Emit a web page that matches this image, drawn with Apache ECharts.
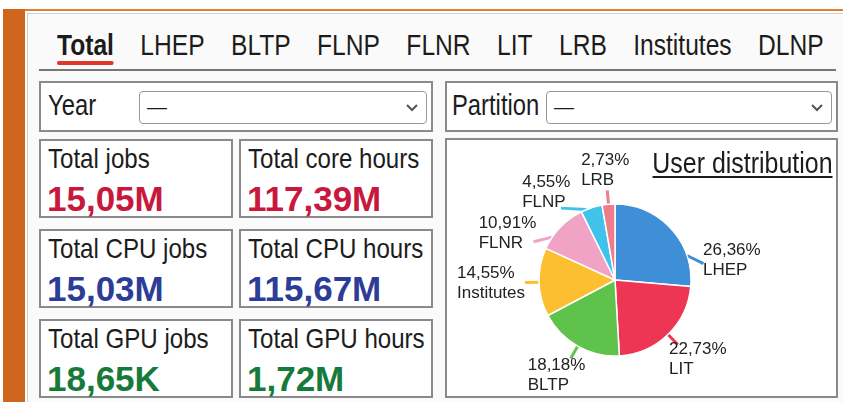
<!DOCTYPE html>
<html>
<head>
<meta charset="utf-8">
<script src="https://cdn.jsdelivr.net/npm/echarts@6/dist/echarts.min.js"></script>
<style>
body { margin: 0; width: 843px; height: 402px; overflow: hidden; background: #fff; position: relative;
  font-family: "Liberation Sans", Arial, sans-serif; color: #1c1c1c; }
.narrow { transform: scaleX(0.82); transform-origin: 0 0; white-space: nowrap; }
#side { position: absolute; left: 3px; top: 9px; width: 22px; height: 393px; background: #cf661d; }
#topline { position: absolute; left: 25px; top: 9px; right: 0; height: 2px; background: #e27c33; }
#panel { position: absolute; left: 27px; top: 13px; width: 816px; height: 389px; background: #fafafa;
  border-left: 1px solid #d0d0d0; border-top: 1px solid #d0d0d0; }
#tabs { position: absolute; left: 57px; top: 30px; display: flex; gap: 32.2px; font-size: 30px; line-height: 30px; }
#tabs span.on { font-weight: bold; position: relative; }
#tabs span.on:after { content: ""; position: absolute; left: 0; right: 0; top: 31px; height: 4px; background: #e0352a; border-radius: 2px; }
#tabline { position: absolute; left: 39px; top: 69px; width: 797px; height: 2px; background: #777; }
.box { position: absolute; border: 2px solid #8a8a8a; background: #fff; box-sizing: border-box; }
.flabel { position: absolute; top: 8px; font-size: 29px; line-height: 29px; }
.sel { position: absolute; top: 8px; height: 33px; border: 1.5px solid #999; border-radius: 4px; box-sizing: border-box; background: #fff; }
.sel .dash { position: absolute; left: 7px; top: 3px; font-size: 20px; line-height: 24px; }
.sel svg { position: absolute; right: 8px; top: 12px; }
.card .lab { position: absolute; left: 7px; top: 4px; font-size: 28px; line-height: 28px; transform: scaleX(0.86); }
.card .val { position: absolute; left: 6px; top: 40px; font-weight: bold; font-size: 35px; line-height: 35px; }
#chart { position: absolute; left: 446px; top: 139px; width: 391px; height: 257px; }
#ptitle { position: absolute; right: 10px; top: 149px; font-size: 29px; line-height: 29px; transform: scaleX(0.86); transform-origin: 100% 0;
  white-space: nowrap; text-decoration: underline; text-decoration-thickness: 2px; text-underline-offset: 3px; }
</style>
</head>
<body>
<div id="side"></div>
<div id="topline"></div>
<div id="panel"></div>
<div id="tabs" class="narrow"></div>
<div id="tabline"></div>

<div class="box" style="left:39px;top:81px;width:394px;height:51px;">
  <div class="flabel narrow" style="left:7px;">Year</div>
  <div class="sel" style="left:98px;width:288px;"><span class="dash">—</span>
    <svg width="12" height="8"><polyline points="1,1 6,6 11,1" fill="none" stroke="#555" stroke-width="2"/></svg></div>
</div>
<div class="box" style="left:445px;top:81px;width:393px;height:51px;">
  <div class="flabel narrow" style="left:5px;">Partition</div>
  <div class="sel" style="left:99px;width:286px;"><span class="dash">—</span>
    <svg width="12" height="8"><polyline points="1,1 6,6 11,1" fill="none" stroke="#555" stroke-width="2"/></svg></div>
</div>

<div id="cards"></div>

<div class="box" style="left:445px;top:138px;width:393px;height:260px;"></div>
<div id="chart"></div>
<div id="ptitle">User distribution</div>

<script>
var tabNames = ['Total', 'LHEP', 'BLTP', 'FLNP', 'FLNR', 'LIT', 'LRB', 'Institutes', 'DLNP'];
var cardLabels = ['Total jobs', 'Total core hours', 'Total CPU jobs', 'Total CPU hours', 'Total GPU jobs', 'Total GPU hours'];
var cardValues = ['15,05M', '117,39M', '15,03M', '115,67M', '18,65K', '1,72M'];
var groupNames = ['LHEP', 'LIT', 'BLTP', 'Institutes', 'FLNR', 'FLNP', 'LRB'];
var userCounts = [29, 25, 20, 16, 12, 5, 3];

var rowColors = ['#c9183d', '#2c3d97', '#167a3b'];
var sliceColors = ['#3f8fd8', '#ee3654', '#5fc24b', '#fbbf30', '#f0a3c4', '#40c2ea', '#ee7d8c'];

// tabs
var tabs = document.getElementById('tabs');
tabNames.forEach(function (t, i) {
  var s = document.createElement('span');
  s.textContent = t;
  if (i === 0) s.className = 'on';
  tabs.appendChild(s);
});

// stat cards, 2 per row
var cards = document.getElementById('cards');
var cardTops = [139, 229, 319];
var cardLefts = [39, 239];
cardLabels.forEach(function (lab, i) {
  var row = Math.floor(i / 2), col = i % 2;
  var d = document.createElement('div');
  d.className = 'box card';
  d.style.left = cardLefts[col] + 'px';
  d.style.top = cardTops[row] + 'px';
  d.style.width = '194px';
  d.style.height = '79px';
  d.innerHTML = '<div class="lab narrow">' + lab + '</div><div class="val" style="color:' + rowColors[row] + '">' + cardValues[i] + '</div>';
  cards.appendChild(d);
});

// pie
var cx = 169, cy = 141, r = 76, lineLen = 14, lineH = 20, gapX = 10, titleClear = 60;
var labelFont = '17px "Liberation Sans", Arial, sans-serif';
var total = userCounts.reduce(function (a, b) { return a + b; }, 0);
var pctText = userCounts.map(function (v) { return (v / total * 100).toFixed(2).replace('.', ',') + '%'; });

// outside labels: box sits just past the line end; walk round the pie until it is free
var ctx = document.createElement('canvas').getContext('2d');
ctx.font = labelFont;
var midAngles = [], sweeps = [], start = 90;
userCounts.forEach(function (v) {
  var sweep = v / total * 360;
  midAngles.push(start - sweep / 2);
  sweeps.push(sweep);
  start -= sweep;
});
function overlaps(a, b) {
  return Math.abs(a.x - b.x) < (a.w + b.w) / 2 + gapX && Math.abs(a.y - b.y) < (a.h + b.h) / 2;
}
function boxAt(ang, w, h) {
  var t = ang * Math.PI / 180;
  var ux = Math.cos(t), uy = -Math.sin(t);
  var ex = cx + (r + lineLen) * ux, ey = cy + (r + lineLen) * uy;
  return { x: ex + ux * w / 2, y: ey + uy * h / 2, w: w, h: h, ex: ex, ey: ey, ang: ang };
}
// keep labels clear of the title
var chartRect = document.getElementById('chart').getBoundingClientRect();
var titleRect = document.getElementById('ptitle').getBoundingClientRect();
var placed = [{
  x: (titleRect.left + titleRect.right) / 2 - chartRect.left,
  y: (titleRect.top + titleRect.bottom) / 2 - chartRect.top,
  w: titleRect.width, h: titleRect.height + 2 * titleClear
}];
var layouts = [];
for (var i = groupNames.length - 1; i >= 0; i--) {
  var w = Math.max(ctx.measureText(pctText[i]).width, ctx.measureText(groupNames[i]).width);
  var h = 2 * lineH, box = null;
  for (var k = 0; k < 120 && !box; k++) {
    [k, -k].forEach(function (d) {
      if (box) return;
      var b = boxAt(midAngles[i] + d, w, h);
      if (!placed.some(function (p) { return overlaps(p, b); })) box = b;
    });
  }
  placed.push(box);
  // line starts on the slice edge, near the middle of the slice
  var a0 = Math.max(midAngles[i] - sweeps[i] / 4, Math.min(midAngles[i] + sweeps[i] / 4, box.ang));
  var t0 = a0 * Math.PI / 180;
  layouts[i] = {
    x: box.x, y: box.y, align: 'center', verticalAlign: 'middle',
    labelLinePoints: [[cx + r * Math.cos(t0), cy - r * Math.sin(t0)], [box.ex, box.ey]]
  };
}

var chartDom = document.getElementById('chart');
var myChart = echarts.init(chartDom);
var option;

option = {
  animation: false,
  color: sliceColors,
  series: [{
    type: 'pie',
    center: [cx, cy],
    radius: r,
    startAngle: 90,
    clockwise: true,
    avoidLabelOverlap: false,
    data: groupNames.map(function (n, i) { return { name: n, value: userCounts[i] }; }),
    itemStyle: { borderColor: '#fff', borderWidth: 1.5 },
    label: {
      overflow: 'none',
      formatter: function (p) {
        return '{a|' + pctText[p.dataIndex] + '}\n{a|' + p.name + '}';
      },
      rich: {
        a: { align: 'left', fontSize: 17, lineHeight: lineH, color: '#222',
             fontFamily: '"Liberation Sans", Arial, sans-serif' }
      }
    },
    labelLine: { length: lineLen, length2: 0, lineStyle: { width: 3 } },
    labelLayout: function (params) {
      return layouts[params.dataIndex];
    }
  }]
};

option && myChart.setOption(option);
</script>
</body>
</html>
